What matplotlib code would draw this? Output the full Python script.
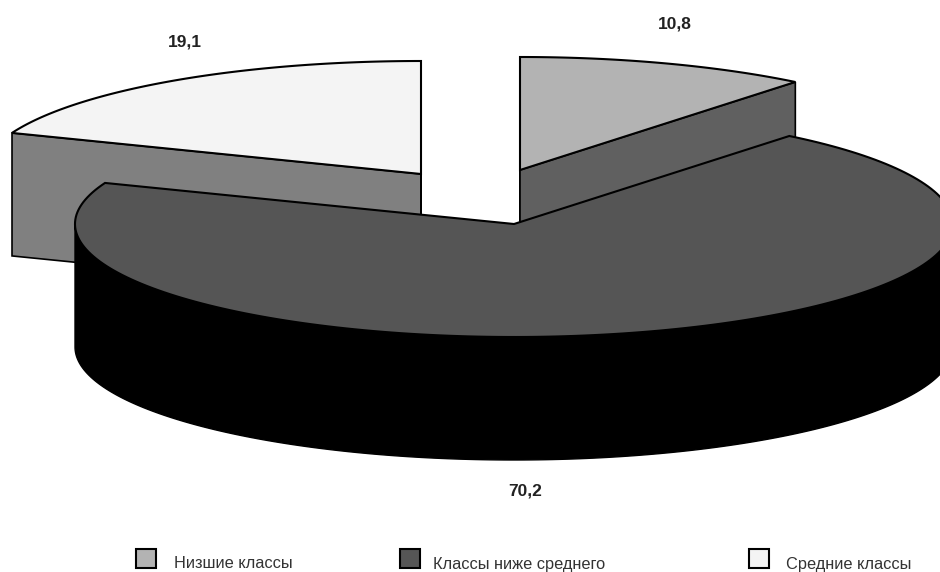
import numpy as np
from matplotlib import pyplot as plt
from matplotlib.patches import Polygon, Rectangle

plt.rcParams['font.family'] = ['Liberation Sans', 'DejaVu Sans']

classes = ['Низшие классы', 'Классы ниже среднего', 'Средние классы']
shares = [10.8, 70.2, 19.1]
share_labels = ['10,8', '70,2', '19,1']
top_colours = ['#b3b3b3', '#555555', '#f4f4f4']
wall_colours = ['#606060', '#000000', '#808080']

# pie geometry in pixels
RX, RY = 439, 113
DEPTH = 123
centres = [(520, 170), (514, 224), (421, 174)]
label_pos = [(675, 24), (525, 491), (185, 42)]
legend_boxes = [136, 400, 749]
legend_text = [(174, 563), (433, 565), (786, 565)]

fig = plt.figure(figsize=(9.4, 5.72), dpi=100)
ax = fig.add_axes([0, 0, 1, 1])
ax.set_xlim(0, 940)
ax.set_ylim(572, 0)
ax.axis('off')


def rim(centre, start, stop):
    t = np.radians(np.linspace(start, stop, 200))
    return np.column_stack([centre[0] + RX * np.cos(t), centre[1] - RY * np.sin(t)])


# slices run clockwise from 12 o'clock
total = sum(shares)
edges = 90 - np.cumsum([0] + shares) / total * 360
down = np.array([0, DEPTH])


def draw_back_slice(i, z):
    c = centres[i]
    edge = rim(c, edges[i], edges[i + 1])
    for p in (edge[0], edge[-1]):
        face = [c, p, p + down, np.array(c) + down]
        ax.add_patch(Polygon(face, closed=True, fc=wall_colours[i], ec='black', lw=1.2, zorder=z))
    ax.add_patch(Polygon(np.vstack([[c], edge]), closed=True, fc=top_colours[i], ec='black',
                         lw=1.5, zorder=z + 1))


def draw_front_slice(i, z):
    c = centres[i]
    # only the lower half of the rim shows a wall
    lower = rim(c, 0, -180)
    ax.add_patch(Polygon(np.vstack([lower, (lower + down)[::-1]]), closed=True,
                         fc=wall_colours[i], ec=wall_colours[i], lw=1, zorder=z))
    edge = rim(c, edges[i], edges[i + 1])
    ax.add_patch(Polygon(np.vstack([[c], edge]), closed=True, fc=top_colours[i], ec='black',
                         lw=1.5, zorder=z + 1))


draw_back_slice(2, 1)
draw_back_slice(0, 3)
draw_front_slice(1, 5)

for (x, y), text in zip(label_pos, share_labels):
    ax.text(x, y, text, fontsize=12.5, fontweight='bold', color='#222222',
            ha='center', va='center')

for x, (tx, ty), name, colour in zip(legend_boxes, legend_text, classes, top_colours):
    ax.add_patch(Rectangle((x, 549), 20, 19, fc=colour, ec='black', lw=1.5, zorder=2))
    ax.text(tx, ty, name, fontsize=11.8, color='#333333', ha='left', va='center')

plt.savefig('out.png', dpi=100)
